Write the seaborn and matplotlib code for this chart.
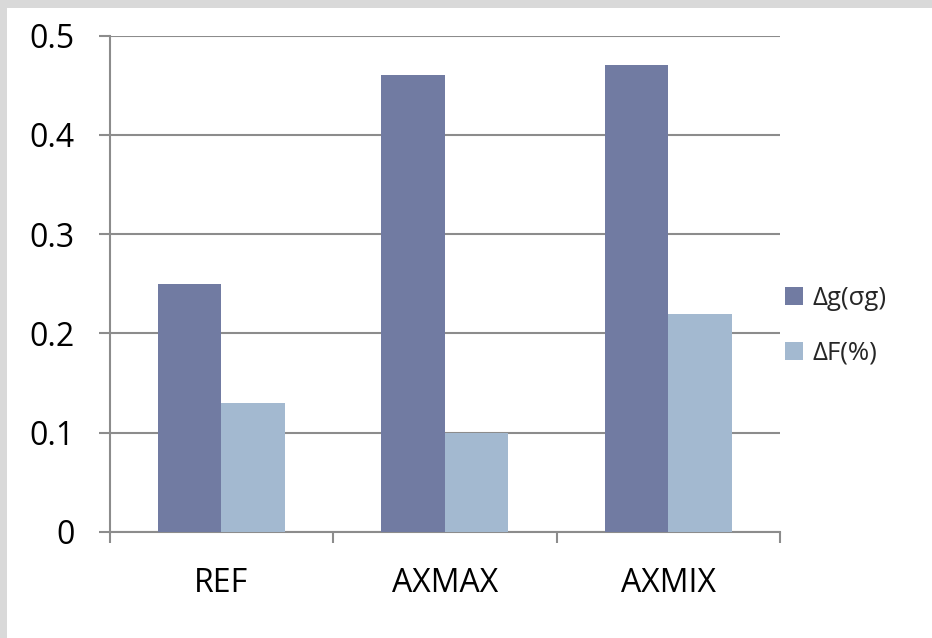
import matplotlib
matplotlib.use("Agg")
import matplotlib.pyplot as plt
from matplotlib.patches import Rectangle
from matplotlib.ticker import FixedLocator
import seaborn as sns
import pandas as pd

# Chart data
categories = ["REF", "AXMAX", "AXMIX"]
series_names = ["Δg(σg)", "ΔF(%)"]
delta_g = [0.25, 0.46, 0.47]
delta_f = [0.13, 0.10, 0.22]
y_ticks = [0, 0.1, 0.2, 0.3, 0.4, 0.5]
y_tick_labels = ["0", "0.1", "0.2", "0.3", "0.4", "0.5"]

colors = ["#717BA2", "#A3B9D0"]
grid_color = "#8C8C8C"
frame_color = "#D9D9D9"

df = pd.DataFrame({
    "category": categories * 2,
    "series": [series_names[0]] * len(categories) + [series_names[1]] * len(categories),
    "value": delta_g + delta_f,
})

sns.set_theme(style="white")
plt.rcParams["font.family"] = ["Open Sans", "DejaVu Sans"]

W, H = 932, 638
fig = plt.figure(figsize=(W / 100, H / 100), dpi=100)
fig.patch.set_facecolor("white")
fig.patch.set_linewidth(0)

# gray slide frame along the left and top edges
fig.patches.append(Rectangle((0, 0), 7 / W, 1, transform=fig.transFigure,
                             facecolor=frame_color, edgecolor="none", zorder=-1))
fig.patches.append(Rectangle((0, 1 - 8 / H), 1, 8 / H, transform=fig.transFigure,
                             facecolor=frame_color, edgecolor="none", zorder=-1))

left, right, top, bottom = 109.5, 780, 35.7, 532
ax = fig.add_axes([left / W, 1 - bottom / H, (right - left) / W, (bottom - top) / H])
ax.set_facecolor("white")

sns.barplot(data=df, x="category", y="value", hue="series", order=categories,
            hue_order=series_names, palette=colors, width=0.568, gap=0,
            linewidth=0, saturation=1, ax=ax, legend=True, zorder=3)

ax.set_xlim(-0.5, len(categories) - 0.5)
ax.set_ylim(0, 0.5)
ax.set_yticks(y_ticks)
ax.set_yticklabels(y_tick_labels)
ax.yaxis.grid(True, color=grid_color, linewidth=1.5, zorder=0)
ax.set_axisbelow(True)
ax.set_xlabel("")
ax.set_ylabel("")

for side in ["top", "right"]:
    ax.spines[side].set_visible(False)
for side in ["left", "bottom"]:
    ax.spines[side].set_color(grid_color)
    ax.spines[side].set_linewidth(1.5)

# category labels centred, tick marks on the category boundaries
ax.tick_params(axis="x", which="major", length=0, pad=25, labelsize=23, labelcolor="black")
ax.xaxis.set_minor_locator(FixedLocator([i - 0.5 for i in range(len(categories) + 1)]))
ax.tick_params(axis="x", which="minor", bottom=True, direction="out", length=8,
               width=1.5, color=grid_color)
ax.tick_params(axis="y", which="major", left=True, direction="out", length=8,
               width=1.5, color=grid_color, pad=17, labelsize=23, labelcolor="black")

handles, labels = ax.get_legend_handles_labels()
ax.get_legend().remove()
fig.legend(handles, labels, loc="center left", bbox_to_anchor=(785 / W, 1 - 326 / H),
           frameon=False, fontsize=18.5, handlelength=0.7, handleheight=0.7,
           handletextpad=0.38, labelspacing=1.15, borderpad=0, borderaxespad=0)

fig.savefig("out.png", dpi=100, facecolor=fig.get_facecolor())
